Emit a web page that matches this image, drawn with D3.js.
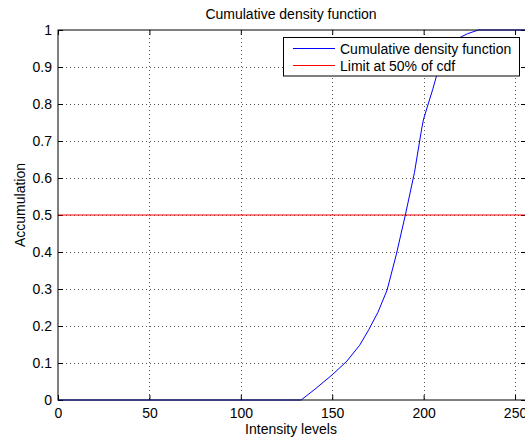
<!DOCTYPE html>
<html>
<head>
<meta charset="utf-8">
<script src="https://cdn.jsdelivr.net/npm/d3@7"></script>
<style>
  body { margin: 0; background: #fff; }
  svg { display: block; font-family: "Liberation Sans", Arial, sans-serif; }
</style>
</head>
<body>
<div id="chart"></div>
<script>
/**
 * DATA
 * */
const cdfX = [0, 133, 140, 150, 158, 165, 170, 175, 180, 185, 190, 195, 199, 200, 205, 207, 210, 215, 220, 224, 230, 256];
const cdfY = [0, 0, 0.027, 0.068, 0.105, 0.148, 0.19, 0.237, 0.297, 0.392, 0.5, 0.615, 0.735, 0.76, 0.84, 0.875, 0.915, 0.957, 0.98, 0.99, 1, 1];
const limitY = 0.5;
const xTicks = [0, 50, 100, 150, 200, 250];
const yTicks = [0, 0.1, 0.2, 0.3, 0.4, 0.5, 0.6, 0.7, 0.8, 0.9, 1];
const legendLabels = ["Cumulative density function", "Limit at 50% of cdf"];
const legendColors = ["#0000ff", "#ff0000"];

const width = 525, height = 438;
const margin = { top: 30, bottom: 38, left: 58, right: -1 };
const fs = 14;

const svg = d3.select("#chart").append("svg")
  .attr("width", width)
  .attr("height", height);

const x = d3.scaleLinear()
  .domain([0, 256])
  .range([margin.left, width - margin.right]);

const y = d3.scaleLinear()
  .domain([0, 1])
  .range([height - margin.bottom, margin.top]);

const x0 = x(0), x1 = x(256), y0 = y(0), y1 = y(1);

// grid (dotted)
const grid = svg.append("g").attr("stroke", "#555").attr("stroke-dasharray", "1,3").attr("stroke-width", 1);
grid.selectAll(".gx").data(xTicks.slice(1)).join("line")
  .attr("x1", d => Math.round(x(d)) + 0.5).attr("x2", d => Math.round(x(d)) + 0.5)
  .attr("y1", y1).attr("y2", y0);
grid.selectAll(".gy").data(yTicks.slice(1, -1)).join("line")
  .attr("y1", d => Math.round(y(d)) + 0.5).attr("y2", d => Math.round(y(d)) + 0.5)
  .attr("x1", x0).attr("x2", x1);

// axes with inward ticks on all four sides
const tl = 5;
const axB = svg.append("g").attr("transform", `translate(0,${y0})`)
  .call(d3.axisBottom(x).tickValues(xTicks).tickSizeInner(-tl).tickSizeOuter(0).tickPadding(8));
const axT = svg.append("g").attr("transform", `translate(0,${y1})`)
  .call(d3.axisTop(x).tickValues(xTicks).tickSizeInner(-tl).tickSizeOuter(0).tickFormat(""));
const axL = svg.append("g").attr("transform", `translate(${x0},0)`)
  .call(d3.axisLeft(y).tickValues(yTicks).tickSizeInner(-tl).tickSizeOuter(0).tickPadding(6).tickFormat(d3.format("")));
const axR = svg.append("g").attr("transform", `translate(${x1},0)`)
  .call(d3.axisRight(y).tickValues(yTicks).tickSizeInner(-tl).tickSizeOuter(0).tickFormat(""));

[axB, axT, axL, axR].forEach(a => {
  a.select(".domain").remove();
  a.selectAll("line").attr("stroke", "#000");
  a.selectAll("text").attr("font-size", fs).attr("fill", "#000")
    .attr("font-family", "'Liberation Sans', Arial, sans-serif");
});

// lines
svg.append("line")
  .attr("x1", x0).attr("x2", x1)
  .attr("y1", y(limitY)).attr("y2", y(limitY))
  .attr("stroke", "#ff0000").attr("stroke-width", 1);

const line = d3.line().x((d, i) => x(cdfX[i])).y(d => y(d));
svg.append("path")
  .datum(cdfY)
  .attr("d", line)
  .attr("fill", "none")
  .attr("stroke", "#0000ff")
  .attr("stroke-width", 1);

// frame
svg.append("rect")
  .attr("x", x0).attr("y", y1)
  .attr("width", x1 - x0).attr("height", y0 - y1)
  .attr("fill", "none").attr("stroke", "#000").attr("stroke-width", 1);

// title and labels
svg.append("text")
  .attr("x", 291).attr("y", 19)
  .attr("text-anchor", "middle").attr("font-size", fs)
  .text("Cumulative density function");

svg.append("text")
  .attr("x", 291).attr("y", 434)
  .attr("text-anchor", "middle").attr("font-size", fs)
  .text("Intensity levels");

svg.append("text")
  .attr("transform", "translate(25,205) rotate(-90)")
  .attr("text-anchor", "middle").attr("font-size", fs)
  .text("Accumulation");

// legend
const lg = svg.append("g");
lg.append("rect")
  .attr("x", 283.5).attr("y", 37.5)
  .attr("width", 236).attr("height", 38.5)
  .attr("fill", "#fff").attr("stroke", "#000").attr("stroke-width", 1);
legendLabels.forEach((lab, i) => {
  const ly = 48.5 + i * 17;
  lg.append("line")
    .attr("x1", 293).attr("x2", 335)
    .attr("y1", ly).attr("y2", ly)
    .attr("stroke", legendColors[i]).attr("stroke-width", 1);
  lg.append("text")
    .attr("x", 340).attr("y", ly + 5)
    .attr("font-size", fs)
    .text(lab);
});
</script>
</body>
</html>
